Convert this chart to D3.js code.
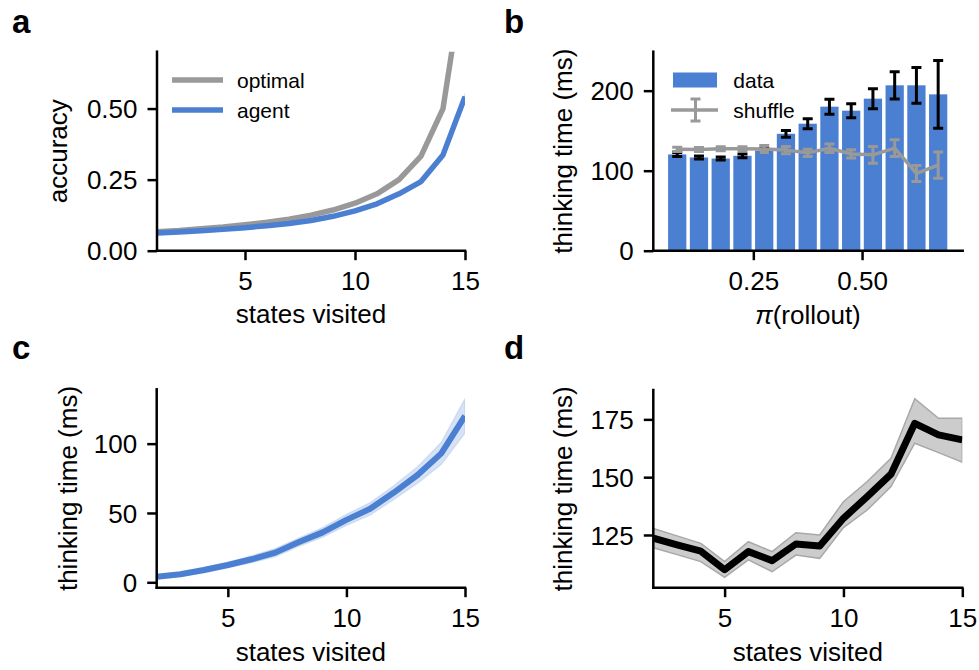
<!DOCTYPE html>
<html>
<head>
<meta charset="utf-8">
<script src="https://cdn.jsdelivr.net/npm/d3@7"></script>
<style>
  html, body { margin: 0; padding: 0; background: #fff; }
  svg { display: block; font-family: "Liberation Sans", Arial, sans-serif; }
</style>
</head>
<body>
<svg id="fig" width="979" height="670"></svg>
<script>
// ---------------- data ----------------
// panel a
const statesA = [1, 2, 3, 4, 5, 6, 7, 8, 9, 10, 11, 12, 13, 14, 15];
const optimalAcc = [0.067, 0.071, 0.077, 0.083, 0.091, 0.100, 0.111, 0.125, 0.143, 0.167, 0.200, 0.250, 0.333, 0.500, 1.000];
const agentAcc = [0.062, 0.066, 0.070, 0.075, 0.081, 0.088, 0.096, 0.106, 0.121, 0.140, 0.165, 0.200, 0.243, 0.337, 0.542];
const agentAccErr = [0.002, 0.002, 0.002, 0.002, 0.002, 0.002, 0.002, 0.002, 0.003, 0.003, 0.003, 0.004, 0.005, 0.007, 0.015];
const ticksAX = [5, 10, 15];
const ticksAY = [0, 0.25, 0.5];
const legendA = ["optimal", "agent"];

// panel b
const rolloutBins = [0.075, 0.125, 0.175, 0.225, 0.275, 0.325, 0.375, 0.425, 0.475, 0.525, 0.575, 0.625, 0.675];
const dataTime = [120.3, 116.5, 115.2, 118.6, 125.3, 146.1, 158.7, 180.0, 175.0, 190.0, 206.7, 206.7, 195.4];
const dataErr = [2.5, 2.0, 2.0, 2.3, 2.5, 4.2, 6.3, 9.4, 8.8, 12.5, 17.0, 22.3, 42.4];
const shuffleTime = [126.7, 126.5, 127.3, 127.3, 127.1, 125.7, 122.3, 128.0, 120.9, 119.8, 128.2, 96.5, 106.9];
const shuffleErr = [2.7, 2.5, 2.5, 2.5, 4.4, 4.6, 4.6, 5.2, 5.2, 10.4, 10.4, 10.0, 16.3];
const ticksBX = [0.25, 0.5];
const ticksBY = [0, 100, 200];
const legendB = ["data", "shuffle"];

// panel c
const statesC = [2, 3, 4, 5, 6, 7, 8, 9, 10, 11, 12, 13, 14, 15];
const thinkC = [4.0, 5.8, 8.9, 12.5, 16.6, 21.4, 29.0, 36.0, 45.0, 53.0, 64.7, 77.4, 93.0, 120.0];
const thinkCErr = [1.5, 1.5, 2.0, 2.0, 2.5, 3.0, 3.0, 3.5, 4.0, 4.5, 5.0, 6.0, 8.0, 12.5];
const ticksCX = [5, 10, 15];
const ticksCY = [0, 50, 100];

// panel d
const statesD = [2, 3, 4, 5, 6, 7, 8, 9, 10, 11, 12, 13, 14, 15];
const thinkD = [123.6, 120.7, 118.0, 110.0, 117.8, 113.9, 121.1, 120.2, 132.2, 141.6, 151.3, 173.3, 168.3, 166.1];
const thinkDHi = [127.8, 124.6, 121.4, 113.5, 122.1, 117.8, 126.0, 125.0, 139.4, 148.1, 158.2, 183.9, 175.5, 175.5];
const thinkDLo = [119.5, 116.5, 113.5, 106.7, 114.2, 109.1, 116.3, 114.9, 128.2, 135.8, 145.9, 164.7, 160.6, 156.5];
const ticksDX = [5, 10, 15];
const ticksDY = [125, 150, 175];

// ---------------- style ----------------
const BLUE = "#4b7fd2";
const GREY = "#999999";
const TICK_FS = 26, LABEL_FS = 26, LEG_FS = 21, PANEL_FS = 33;
const SPINE_W = 2.5, TICK_LEN = 9.5;

const svg = d3.select("#fig");

function makeAxes(id, box, xDomain, yDomain, xTicks, yTicks, yFmt, xFmt) {
  const g = svg.append("g");
  const x = d3.scaleLinear().domain(xDomain).range([box.l, box.r]);
  const y = d3.scaleLinear().domain(yDomain).range([box.b, box.t]);
  svg.append("clipPath").attr("id", "clip-" + id)
    .append("rect").attr("x", box.l).attr("y", box.t)
    .attr("width", box.r - box.l).attr("height", box.b - box.t);
  const plot = g.append("g").attr("clip-path", `url(#clip-${id})`);
  const axG = g.append("g");
  // x axis
  const xa = d3.axisBottom(x).tickValues(xTicks).tickSize(TICK_LEN).tickPadding(7).tickFormat(xFmt || d3.format("d"));
  const xg = axG.append("g").attr("transform", `translate(0,${box.b})`).call(xa);
  // y axis
  const ya = d3.axisLeft(y).tickValues(yTicks).tickSize(TICK_LEN).tickPadding(9).tickFormat(yFmt || d3.format("d"));
  const yg = axG.append("g").attr("transform", `translate(${box.l},0)`).call(ya);
  [xg, yg].forEach(a => {
    a.select(".domain").attr("stroke", "#000").attr("stroke-width", SPINE_W)
      .attr("stroke-linecap", "square");
    a.selectAll(".tick line").attr("stroke", "#000").attr("stroke-width", SPINE_W);
    a.selectAll(".tick text").attr("font-size", TICK_FS).attr("fill", "#000")
      .attr("font-family", '"Liberation Sans", Arial, sans-serif');
  });
  // remove outer ticks from domain path: redraw simple spines
  xg.select(".domain").attr("d", `M${box.l},0H${box.r}`);
  yg.select(".domain").attr("d", `M0,${box.t}V${box.b}`);
  xg.selectAll(".tick text").attr("dy", "0.71em").attr("y", TICK_LEN + 11);
  yg.selectAll(".tick text").attr("x", -(TICK_LEN + 10)).attr("dy", "0.35em");
  return { g, x, y, plot, axG, box };
}

function xLabel(ax, text, yBase) {
  const t = ax.g.append("text").attr("x", (ax.box.l + ax.box.r) / 2).attr("y", yBase)
    .attr("text-anchor", "middle").attr("font-size", LABEL_FS);
  return t.text(text);
}
function yLabel(ax, text, xBase) {
  const cy = (ax.box.t + ax.box.b) / 2;
  ax.g.append("text").attr("transform", `translate(${xBase},${cy}) rotate(-90)`)
    .attr("text-anchor", "middle").attr("font-size", LABEL_FS).text(text);
}
function panelLabel(text, x, y) {
  svg.append("text").attr("x", x).attr("y", y).attr("font-size", PANEL_FS)
    .attr("font-weight", "bold").text(text);
}

// ---------------- panel a ----------------
{
  const ax = makeAxes("a", { l: 157, r: 465, t: 51.7, b: 250.7 }, [1, 15], [0, 0.70],
    ticksAX, ticksAY, d3.format(".2f"));
  const line = d3.line().x((d, i) => ax.x(statesA[i])).y(d => ax.y(d));
  ax.plot.append("path").datum(agentAcc)
    .attr("d", d3.area().x((d, i) => ax.x(statesA[i]))
      .y0((d, i) => ax.y(d - agentAccErr[i])).y1((d, i) => ax.y(d + agentAccErr[i])))
    .attr("fill", BLUE).attr("fill-opacity", 0.25);
  ax.plot.append("path").datum(optimalAcc).attr("d", line)
    .attr("fill", "none").attr("stroke", GREY).attr("stroke-width", 5.5)
    .attr("stroke-linejoin", "round");
  ax.plot.append("path").datum(agentAcc).attr("d", line)
    .attr("fill", "none").attr("stroke", BLUE).attr("stroke-width", 5.5)
    .attr("stroke-linejoin", "round");
  // legend
  const legColors = [GREY, BLUE];
  legendA.forEach((name, i) => {
    const yy = 80 + i * 30;
    ax.g.append("line").attr("x1", 172).attr("x2", 223).attr("y1", yy).attr("y2", yy)
      .attr("stroke", legColors[i]).attr("stroke-width", 5.5);
    ax.g.append("text").attr("x", 237).attr("y", yy + 7.5).attr("font-size", LEG_FS).text(name);
  });
  xLabel(ax, "states visited", 323);
  yLabel(ax, "accuracy", 67);
  panelLabel("a", 12, 33);
}

// ---------------- panel b ----------------
{
  const ax = makeAxes("b", { l: 653.3, r: 962.7, t: 51.7, b: 250.7 }, [0.02, 0.7314], [0, 248.7],
    ticksBX, ticksBY, d3.format("d"), d3.format(".2f"));
  const bw = 0.042;
  ax.plot.selectAll("rect.bar").data(dataTime).join("rect").attr("class", "bar")
    .attr("x", (d, i) => ax.x(rolloutBins[i] - bw / 2))
    .attr("width", (d, i) => ax.x(rolloutBins[i] + bw / 2) - ax.x(rolloutBins[i] - bw / 2))
    .attr("y", d => ax.y(d)).attr("height", d => ax.y(0) - ax.y(d))
    .attr("fill", BLUE);
  const cap = 5;
  const eb = ax.plot.append("g").attr("stroke", "#000").attr("stroke-width", 3);
  dataTime.forEach((d, i) => {
    const cx = ax.x(rolloutBins[i]);
    const y0 = ax.y(d - dataErr[i]), y1 = ax.y(d + dataErr[i]);
    eb.append("line").attr("x1", cx).attr("x2", cx).attr("y1", y0).attr("y2", y1);
    eb.append("line").attr("x1", cx - cap).attr("x2", cx + cap).attr("y1", y0).attr("y2", y0);
    eb.append("line").attr("x1", cx - cap).attr("x2", cx + cap).attr("y1", y1).attr("y2", y1);
  });
  const sl = d3.line().x((d, i) => ax.x(rolloutBins[i])).y(d => ax.y(d));
  ax.plot.append("path").datum(shuffleTime).attr("d", sl).attr("fill", "none")
    .attr("stroke", GREY).attr("stroke-width", 3.5).attr("stroke-linejoin", "round");
  const sb = ax.plot.append("g").attr("stroke", GREY).attr("stroke-width", 3);
  shuffleTime.forEach((d, i) => {
    const cx = ax.x(rolloutBins[i]);
    const y0 = ax.y(d - shuffleErr[i]), y1 = ax.y(d + shuffleErr[i]);
    sb.append("line").attr("x1", cx).attr("x2", cx).attr("y1", y0).attr("y2", y1);
    sb.append("line").attr("x1", cx - cap).attr("x2", cx + cap).attr("y1", y0).attr("y2", y0);
    sb.append("line").attr("x1", cx - cap).attr("x2", cx + cap).attr("y1", y1).attr("y2", y1);
  });
  // legend
  ax.g.append("rect").attr("x", 673).attr("y", 72.5).attr("width", 44).attr("height", 15).attr("fill", BLUE);
  ax.g.append("text").attr("x", 733.3).attr("y", 87.5).attr("font-size", LEG_FS).text(legendB[0]);
  const ly = 110;
  ax.g.append("line").attr("x1", 671).attr("x2", 718).attr("y1", ly).attr("y2", ly)
    .attr("stroke", GREY).attr("stroke-width", 3.5);
  ax.g.append("line").attr("x1", 695.5).attr("x2", 695.5).attr("y1", ly - 11).attr("y2", ly + 11)
    .attr("stroke", GREY).attr("stroke-width", 3);
  [ly - 11, ly + 11].forEach(yy => ax.g.append("line").attr("x1", 690.5).attr("x2", 700.5)
    .attr("y1", yy).attr("y2", yy).attr("stroke", GREY).attr("stroke-width", 3));
  ax.g.append("text").attr("x", 733.3).attr("y", 118).attr("font-size", LEG_FS).text(legendB[1]);
  // x label with italic pi
  const t = ax.g.append("text").attr("x", (ax.box.l + ax.box.r) / 2).attr("y", 324)
    .attr("text-anchor", "middle").attr("font-size", LABEL_FS);
  t.append("tspan").attr("font-style", "italic").text("π");
  t.append("tspan").text("(rollout)");
  yLabel(ax, "thinking time (ms)", 572);
  panelLabel("b", 504, 33);
}

// ---------------- panel c ----------------
{
  const ax = makeAxes("c", { l: 156.7, r: 465, t: 389.3, b: 587.7 }, [2, 15], [-3.9, 139.2],
    ticksCX, ticksCY, d3.format("d"));
  ax.plot.append("path").datum(thinkC)
    .attr("d", d3.area().x((d, i) => ax.x(statesC[i]))
      .y0((d, i) => ax.y(d - thinkCErr[i])).y1((d, i) => ax.y(d + thinkCErr[i])))
    .attr("fill", BLUE).attr("fill-opacity", 0.22)
    .attr("stroke", BLUE).attr("stroke-opacity", 0.15).attr("stroke-width", 1.5);
  ax.plot.append("path").datum(thinkC)
    .attr("d", d3.line().x((d, i) => ax.x(statesC[i])).y(d => ax.y(d)))
    .attr("fill", "none").attr("stroke", BLUE).attr("stroke-width", 6)
    .attr("stroke-linejoin", "round");
  xLabel(ax, "states visited", 661);
  yLabel(ax, "thinking time (ms)", 77);
  panelLabel("c", 12, 359);
}

// ---------------- panel d ----------------
{
  const ax = makeAxes("d", { l: 653.3, r: 962.3, t: 390, b: 587.7 }, [2, 15], [102.2, 187.7],
    ticksDX, ticksDY, d3.format("d"));
  ax.plot.append("path").datum(thinkD)
    .attr("d", d3.area().x((d, i) => ax.x(statesD[i]))
      .y0((d, i) => ax.y(thinkDLo[i])).y1((d, i) => ax.y(thinkDHi[i])))
    .attr("fill", "#cccccc").attr("stroke", "#a8a8a8").attr("stroke-width", 1.5);
  ax.plot.append("path").datum(thinkD)
    .attr("d", d3.line().x((d, i) => ax.x(statesD[i])).y(d => ax.y(d)))
    .attr("fill", "none").attr("stroke", "#000").attr("stroke-width", 7)
    .attr("stroke-linejoin", "round");
  xLabel(ax, "states visited", 661);
  yLabel(ax, "thinking time (ms)", 572);
  panelLabel("d", 504, 359);
}
</script>
</body>
</html>
